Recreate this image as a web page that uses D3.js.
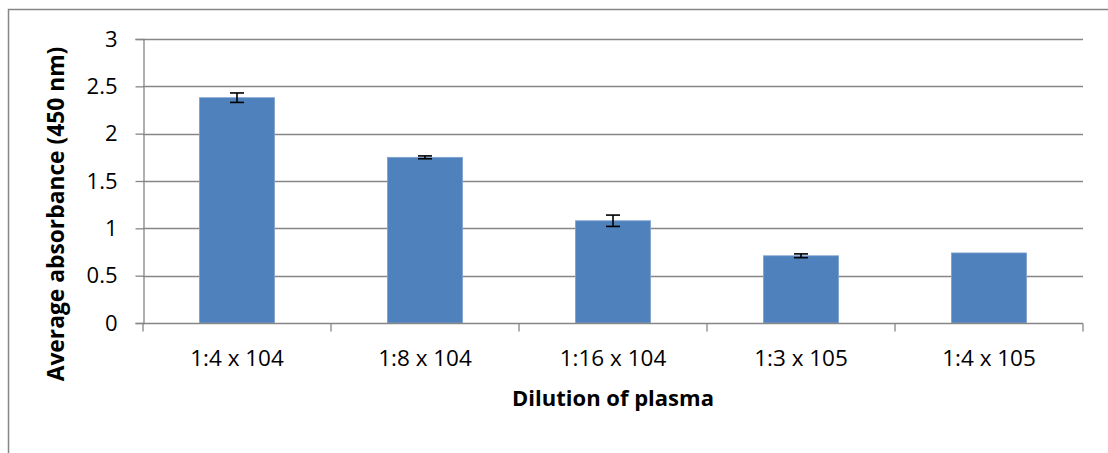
<!DOCTYPE html>
<html>
<head>
<meta charset="utf-8">
<script src="https://cdn.jsdelivr.net/npm/d3@7"></script>
<style>
  html, body { margin: 0; padding: 0; background: #fff; }
  svg { display: block; }
  text { font-family: "Open Sans", "Liberation Sans", sans-serif; fill: #000; }
</style>
</head>
<body>
<svg id="chart" width="1108" height="453"></svg>
<script>
// Mean absorbance at 450 nm for each plasma dilution, with error bars
const categories = ["1:4 x 104", "1:8 x 104", "1:16 x 104", "1:3 x 105", "1:4 x 105"];
const absorbance = [2.38, 1.75, 1.08, 0.71, 0.74];
const errors = [0.05, 0.015, 0.06, 0.02, 0];
const yTicks = [0, 0.5, 1, 1.5, 2, 2.5, 3];
const yTickLabels = ["0", "0.5", "1", "1.5", "2", "2.5", "3"];

const svg = d3.select("#chart");
const gray = "#868686";

// chart frame
svg.append("path")
  .attr("d", "M8.5,453 V9.5 H1108")
  .attr("fill", "none").attr("stroke", gray).attr("stroke-width", 1.5);

const plot = { left: 143, right: 1083, top: 39, bottom: 323 };

const x = d3.scaleBand().domain(categories).range([plot.left, plot.right]).paddingInner(0.6).paddingOuter(0.3);
const xCat = d3.scaleBand().domain(categories).range([plot.left, plot.right]);
const y = d3.scaleLinear().domain([0, 3]).range([plot.bottom, plot.top]);

// horizontal gridlines
svg.append("g").selectAll("line").data(yTicks.filter(d => d > 0)).join("line")
  .attr("x1", plot.left).attr("x2", plot.right)
  .attr("y1", d => Math.round(y(d)) + 0.5).attr("y2", d => Math.round(y(d)) + 0.5)
  .attr("stroke", gray).attr("stroke-width", 1.3);

// bars
svg.append("g").selectAll("rect").data(absorbance).join("rect")
  .attr("x", (d, i) => x(categories[i]))
  .attr("width", x.bandwidth())
  .attr("y", d => y(d))
  .attr("height", d => y(0) - y(d))
  .attr("fill", "#4F81BD")
  .attr("stroke", "#7fa3d0").attr("stroke-width", 0.8);

// error bars
const eg = svg.append("g").attr("stroke", "#000").attr("stroke-width", 1.6).attr("fill", "none");
absorbance.forEach((v, i) => {
  const e = errors[i];
  if (!e) return;
  const cx = x(categories[i]) + x.bandwidth() / 2;
  const y1 = y(v + e), y2 = y(v - e);
  eg.append("line").attr("x1", cx).attr("x2", cx).attr("y1", y1).attr("y2", y2);
  eg.append("line").attr("x1", cx - 7).attr("x2", cx + 7).attr("y1", y1).attr("y2", y1);
  eg.append("line").attr("x1", cx - 7).attr("x2", cx + 7).attr("y1", y2).attr("y2", y2);
});

// y axis
const yAxis = d3.axisLeft(y).tickValues(yTicks).tickFormat((d, i) => yTickLabels[i]).tickSize(8);
const yg = svg.append("g").attr("transform", `translate(${plot.left + 0.5},0)`).call(yAxis);
yg.attr("font-size", null).attr("font-family", null);
yg.select(".domain").attr("stroke", gray).attr("stroke-width", 1.3);
yg.selectAll(".tick line").attr("stroke", gray).attr("stroke-width", 1.3);
yg.selectAll(".tick text")
  .attr("x", -26).attr("dy", "0.33em")
  .style("font-size", "22px").style("font-family", "'Open Sans', sans-serif").attr("fill", "#000");

// x axis: ticks at category boundaries
const xg = svg.append("g").attr("transform", `translate(0,${plot.bottom + 0.5})`);
xg.append("line").attr("x1", plot.left).attr("x2", plot.right).attr("stroke", gray).attr("stroke-width", 1.3);
const bounds = categories.map(c => xCat(c)).concat([plot.right]);
xg.selectAll("line.tk").data(bounds).join("line").attr("class", "tk")
  .attr("x1", d => d).attr("x2", d => d).attr("y1", 0).attr("y2", 8)
  .attr("stroke", gray).attr("stroke-width", 1.3);
xg.selectAll("text").data(categories).join("text")
  .attr("x", d => xCat(d) + xCat.bandwidth() / 2)
  .attr("y", 42)
  .attr("text-anchor", "middle")
  .style("font-size", "22.5px")
  .text(d => d);

// axis titles
svg.append("text")
  .attr("x", (plot.left + plot.right) / 2).attr("y", 406)
  .attr("text-anchor", "middle").style("font-size", "22px").attr("font-weight", "bold")
  .text("Dilution of plasma");

svg.append("text")
  .attr("transform", "translate(64,214) rotate(-90)")
  .attr("text-anchor", "middle").style("font-size", "22.8px").attr("font-weight", "bold")
  .text("Average absorbance (450 nm)");
</script>
</body>
</html>
